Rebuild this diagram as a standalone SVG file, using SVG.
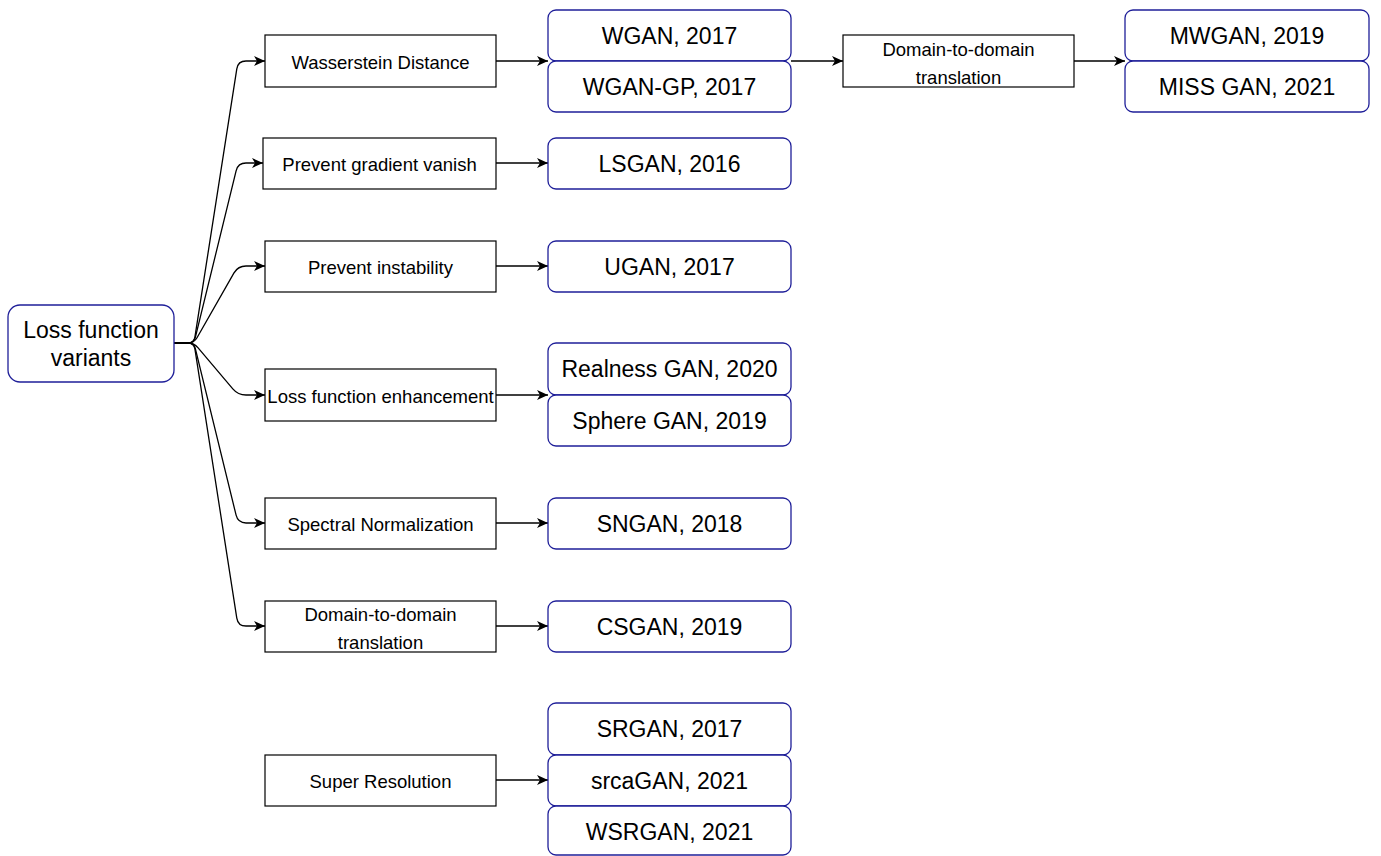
<svg xmlns="http://www.w3.org/2000/svg" width="1381" height="856" viewBox="0 0 1381 856">
<defs>
<marker id="arr" markerWidth="12" markerHeight="10" refX="11" refY="5" orient="auto" markerUnits="userSpaceOnUse">
<path d="M0,0 L11,5 L0,10 L3,5 Z" fill="#000"/>
</marker>
<style>
.sq{fill:#fff;stroke:#000;stroke-width:1.2}
.rd{fill:#fff;stroke:#1f1f99;stroke-width:1.3}
.t1{font-family:"Liberation Sans",Arial,sans-serif;font-size:18.5px;fill:#000;text-anchor:middle}
.t2{font-family:"Liberation Sans",Arial,sans-serif;font-size:23px;fill:#000;text-anchor:middle}
.ln{fill:none;stroke:#000;stroke-width:1.3;marker-end:url(#arr)}
</style>
</defs>
<rect width="1381" height="856" fill="#fff"/>
<g id="connectors">
<path class="ln" d="M174,343 H188 Q194,343 194.9,337.1 L236.8,68.9 Q238,61 246,61 H265"/>
<path class="ln" d="M174,343 H188 Q194,343 195.4,337.2 L236.1,170.8 Q238,163 246,163 H263"/>
<path class="ln" d="M174,343 H188 Q194,343 197,337.8 L234,272.9 Q238,266 246,266 H265"/>
<path class="ln" d="M174,343 H188 Q194,343 197.9,347.6 L232.8,388.9 Q238,395 246,395 H265"/>
<path class="ln" d="M174,343 H188 Q194,343 195.4,348.8 L236.1,515.2 Q238,523 246,523 H265"/>
<path class="ln" d="M174,343 H188 Q194,343 194.9,348.9 L236.8,618.1 Q238,626 246,626 H265"/>
<path class="ln" d="M496,61 H548"/>
<path class="ln" d="M496,163 H548"/>
<path class="ln" d="M496,266 H548"/>
<path class="ln" d="M496,395 H548"/>
<path class="ln" d="M496,523 H548"/>
<path class="ln" d="M496,626 H548"/>
<path class="ln" d="M496,780 H548"/>
<path class="ln" d="M791,61 H843"/>
<path class="ln" d="M1074,61 H1125"/>
</g>
<g id="root"><rect class="rd" x="8" y="305" width="166" height="77" rx="12"/><text class="t2" x="91" y="338">Loss function</text><text class="t2" x="91" y="366">variants</text></g>
<g id="wasserstein"><rect class="sq" x="265" y="35" width="231" height="52"/><text class="t1" x="380.5" y="69">Wasserstein Distance</text></g>
<g id="gradient"><rect class="sq" x="263" y="138" width="233" height="51"/><text class="t1" x="379.5" y="171">Prevent gradient vanish</text></g>
<g id="instability"><rect class="sq" x="265" y="241" width="231" height="51"/><text class="t1" x="380.5" y="273.5">Prevent instability</text></g>
<g id="enhancement"><rect class="sq" x="265" y="369" width="231" height="52"/><text class="t1" x="380.5" y="403">Loss function enhancement</text></g>
<g id="spectral"><rect class="sq" x="265" y="498" width="231" height="51"/><text class="t1" x="380.5" y="531">Spectral Normalization</text></g>
<g id="domain1"><rect class="sq" x="265" y="601" width="231" height="51"/><text class="t1" x="380.5" y="620.5">Domain-to-domain</text><text class="t1" x="380.5" y="648.5">translation</text></g>
<g id="super"><rect class="sq" x="265" y="755" width="231" height="51"/><text class="t1" x="380.5" y="788">Super Resolution</text></g>
<g id="domain2"><rect class="sq" x="843" y="35" width="231" height="52"/><text class="t1" x="958.5" y="55.5">Domain-to-domain</text><text class="t1" x="958.5" y="83.5">translation</text></g>
<g id="wgan"><rect class="rd" x="548" y="10" width="243" height="51" rx="8"/><text class="t2" x="669.5" y="43.5">WGAN, 2017</text></g>
<g id="wgangp"><rect class="rd" x="548" y="61" width="243" height="51" rx="8"/><text class="t2" x="669.5" y="94.5">WGAN-GP, 2017</text></g>
<g id="lsgan"><rect class="rd" x="548" y="138" width="243" height="51" rx="8"/><text class="t2" x="669.5" y="171.5">LSGAN, 2016</text></g>
<g id="ugan"><rect class="rd" x="548" y="241" width="243" height="51" rx="8"/><text class="t2" x="669.5" y="274.5">UGAN, 2017</text></g>
<g id="realness"><rect class="rd" x="548" y="343" width="243" height="52" rx="8"/><text class="t2" x="669.5" y="377">Realness GAN, 2020</text></g>
<g id="sphere"><rect class="rd" x="548" y="395" width="243" height="51" rx="8"/><text class="t2" x="669.5" y="428.5">Sphere GAN, 2019</text></g>
<g id="sngan"><rect class="rd" x="548" y="498" width="243" height="51" rx="8"/><text class="t2" x="669.5" y="531.5">SNGAN, 2018</text></g>
<g id="csgan"><rect class="rd" x="548" y="601" width="243" height="51" rx="8"/><text class="t2" x="669.5" y="634.5">CSGAN, 2019</text></g>
<g id="srgan"><rect class="rd" x="548" y="703" width="243" height="52" rx="8"/><text class="t2" x="669.5" y="737">SRGAN, 2017</text></g>
<g id="srcagan"><rect class="rd" x="548" y="755" width="243" height="51" rx="8"/><text class="t2" x="669.5" y="788.5">srcaGAN, 2021</text></g>
<g id="wsrgan"><rect class="rd" x="548" y="806" width="243" height="49" rx="8"/><text class="t2" x="669.5" y="839.5">WSRGAN, 2021</text></g>
<g id="mwgan"><rect class="rd" x="1125" y="10" width="244" height="51" rx="8"/><text class="t2" x="1247" y="43.5">MWGAN, 2019</text></g>
<g id="missgan"><rect class="rd" x="1125" y="61" width="244" height="51" rx="8"/><text class="t2" x="1247" y="94.5">MISS GAN, 2021</text></g>
</svg>
